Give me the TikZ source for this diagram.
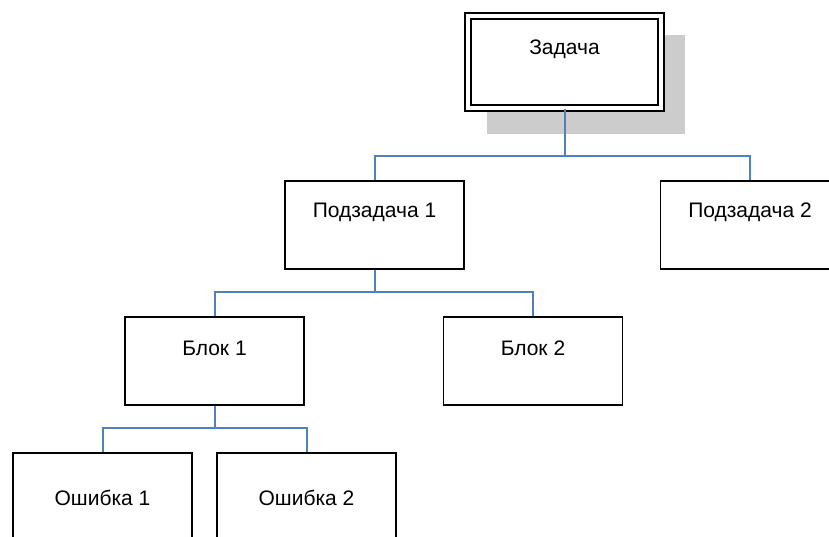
\documentclass[tikz,border=0pt]{standalone}
\usepackage{fontspec}
\setmainfont{Liberation Sans}
\definecolor{linkblue}{HTML}{4F81BD}
\definecolor{shadowgray}{HTML}{CCCCCC}
\tikzset{
	box/.style={draw,line width=1.9pt,fill=white,minimum width=179pt,inner ysep=0pt,font=\fontsize{21}{25}\selectfont},
	link/.style={draw=linkblue,line width=2pt}
}
\begin{document}
\begin{tikzpicture}[x=1pt,y=-1pt]
			\useasboundingbox (0,0) rectangle (829,537);
			\clip (0,0) rectangle (829,537);
			
			% top task with shadow
			\fill[shadowgray] (487,35) rectangle (685,134);
			\node[box,double,line width=1.5pt,double distance=4.3pt,minimum width=193pt,text height=39pt,text depth=53pt] (zad) at (564.5,62) {Задача};
			
			\node[box,text height=37pt,text depth=51pt] (pod1) at (374.5,225) {Подзадача 1};
			\node[box,text height=37pt,text depth=51pt] (pod2) at (750,225) {Подзадача 2};
			
			\node[box,text height=38pt,text depth=50pt] (blok1) at (214.5,361) {Блок 1};
			\node[box,text height=38pt,text depth=50pt] (blok2) at (533,361) {Блок 2};
			
			\node[box,text height=52pt,text depth=40pt] (osh1) at (102.5,499) {Ошибка 1};
			\node[box,text height=52pt,text depth=40pt] (osh2) at (306.5,499) {Ошибка 2};
			
			\coordinate (j1) at (564.5,156);
			\coordinate (j2) at (374.5,292);
			\coordinate (j3) at (214.5,428);
			
			\draw[link] (zad.south) -- (j1) -| (pod1.north);
			\draw[link] (j1) -| (pod2.north);
			\draw[link] (pod1.south) -- (j2) -| (blok1.north);
			\draw[link] (j2) -| (blok2.north);
			\draw[link] (blok1.south) -- (j3) -| (osh1.north);
			\draw[link] (j3) -| (osh2.north);
		\end{tikzpicture}
\end{document}
